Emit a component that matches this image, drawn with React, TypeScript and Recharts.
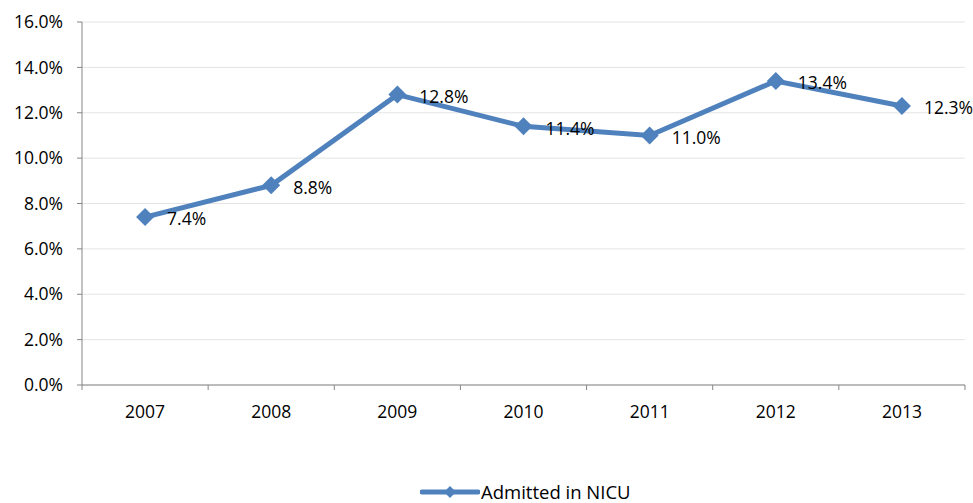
import React from 'react';
import {
    LineChart,
    Line,
    XAxis,
    YAxis,
    CartesianGrid,
    Legend,
    LabelList
} from 'recharts';

const years = ['2007', '2008', '2009', '2010', '2011', '2012', '2013'];
const admittedNicu = [7.4, 8.8, 12.8, 11.4, 11.0, 13.4, 12.3];
const yTicks = [0, 2, 4, 6, 8, 10, 12, 14, 16];

const SERIES_NAME = 'Admitted in NICU';
const BLUE = '#4F81BD';
const FONT = '"Open Sans", sans-serif';

// numeric x so tick marks can sit between the categories like Excel does
const chartData = years.map((year, i) => ({
    x: i + 0.5,
    year,
    value: admittedNicu[i]
}));

// boundaries get a tick line, centres get the year label
const xTicks: number[] = [];
for (let i = 0; i <= years.length; i++) {
    xTicks.push(i);
    if (i < years.length) xTicks.push(i + 0.5);
}

const Diamond = (props: any) => {
    const { cx, cy, index } = props;
    if (cx == null || cy == null) return null;
    const r = 9;
    return (
        <path
            key={`d-${index}`}
            d={`M${cx},${cy - r} L${cx + r},${cy} L${cx},${cy + r} L${cx - r},${cy} Z`}
            fill={BLUE}
        />
    );
};

const XTick = (props: any) => {
    const { x, y, payload } = props;
    const v = payload.value;
    if (Number.isInteger(v)) {
        return <line x1={x} x2={x} y1={y} y2={y + 5} stroke="#868686" strokeWidth={1} />;
    }
    const label = years[Math.floor(v)];
    return (
        <text x={x} y={y + 33} textAnchor="middle" fontSize={17.5} fontFamily={FONT} fill="#000">
            {label}
        </text>
    );
};

const LegendContent = () => (
    <div style={{ display: 'flex', alignItems: 'center', paddingLeft: 420, paddingTop: 6, fontFamily: FONT, fontSize: 18.5, color: '#000' }}>
        <svg width={60} height={16}>
            <line x1={2} x2={58} y1={8} y2={8} stroke={BLUE} strokeWidth={5} strokeLinecap="round" />
            <path d="M30,2 L36,8 L30,14 L24,8 Z" fill={BLUE} />
        </svg>
        <span style={{ marginLeft: 1 }}>{SERIES_NAME}</span>
    </div>
);

export default function App() {
    return (
        <div style={{ position: 'absolute', left: 0, top: 0, width: 973, height: 503, background: '#fff' }}>
            <LineChart
                width={973}
                height={503}
                data={chartData}
                margin={{ top: 22, right: 8, left: 0, bottom: 0 }}
            >
                <CartesianGrid vertical={false} stroke="#e4e4e4" strokeWidth={1} />
                <XAxis
                    dataKey="x"
                    type="number"
                    domain={[0, years.length]}
                    ticks={xTicks}
                    interval={0}
                    tick={<XTick />}
                    tickLine={false}
                    tickSize={0}
                    tickMargin={0}
                    axisLine={{ stroke: '#868686', strokeWidth: 1 }}
                    height={88}
                />
                <YAxis
                    domain={[0, 16]}
                    ticks={yTicks}
                    interval={0}
                    width={82}
                    tickSize={5}
                    tickMargin={14}
                    tickFormatter={(v: number) => `${v.toFixed(1)}%`}
                    tick={{ fontSize: 17.5, fontFamily: FONT, fill: '#000' }}
                    tickLine={{ stroke: '#868686' }}
                    axisLine={{ stroke: '#868686', strokeWidth: 1 }}
                />
                <Legend verticalAlign="bottom" height={30} content={<LegendContent />} />
                <Line
                    type="linear"
                    dataKey="value"
                    name={SERIES_NAME}
                    stroke={BLUE}
                    strokeWidth={5}
                    dot={<Diamond />}
                    activeDot={false}
                    isAnimationActive={false}
                >
                    <LabelList
                        dataKey="value"
                        position="right"
                        offset={22}
                        formatter={(v: any) => `${Number(v).toFixed(1)}%`}
                        style={{ fontSize: 17.5, fontFamily: FONT, fill: '#000', transform: 'translateY(2px)' }}
                    />
                </Line>
            </LineChart>
        </div>
    );
}
